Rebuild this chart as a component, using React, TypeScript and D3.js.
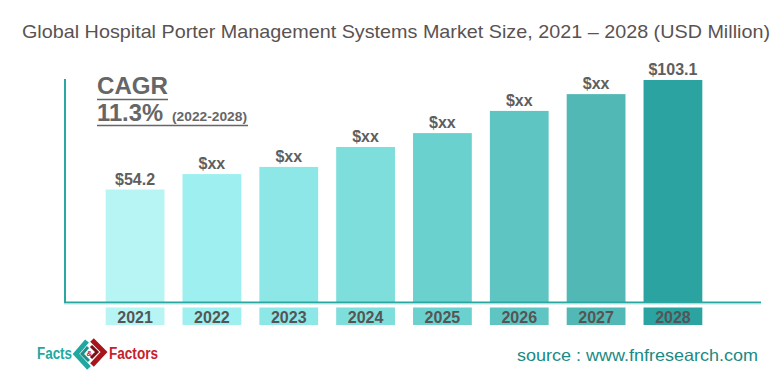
import React from "react";
import * as d3 from "d3";

const years = ["2021", "2022", "2023", "2024", "2025", "2026", "2027", "2028"];
const values = [54.2, 61.1, 64.3, 73.2, 79.4, 89.3, 96.8, 103.1];
const labels = ["$54.2", "$xx", "$xx", "$xx", "$xx", "$xx", "$xx", "$103.1"];
const colors = ["#b6f5f3", "#9deff0", "#8de7e7", "#7ddedc", "#6bd1ce", "#5ec5c2", "#52b8b5", "#2ba3a0"];

const W = 780, H = 381;

export default function App() {
  const x = d3.scaleBand<string>().domain(years).range([98, 710]).paddingInner(0.235).paddingOuter(0.1);
  const y = d3.scaleLinear().domain([4, 103.1]).range([302, 80]);
  const font = "'Liberation Sans', Arial, sans-serif";
  return (
    <svg width={W} height={H} style={{ position: "absolute", left: 0, top: 0 }} fontFamily={font}>
      <rect width={W} height={H} fill="#fff" />
      <text x={22} y={38} fontSize={18.5} fill="#5a5252" textLength={748} lengthAdjust="spacingAndGlyphs">
        Global Hospital Porter Management Systems Market Size, 2021 – 2028 (USD Million)
      </text>
      {years.map((yr, i) => (
        <g key={yr}>
          <rect x={x(yr)} y={y(values[i])} width={x.bandwidth()} height={302 - y(values[i])} fill={colors[i]} />
          <text x={x(yr)! + x.bandwidth() / 2} y={y(values[i]) - 5} textAnchor="middle" fontSize={16} fontWeight="bold" fill="#5e5e5e">
            {labels[i]}
          </text>
          <rect x={x(yr)} y={307.5} width={x.bandwidth()} height={17.5} fill={colors[i]} />
          <text x={x(yr)! + x.bandwidth() / 2} y={322.5} textAnchor="middle" fontSize={16} fontWeight="bold" fill="#555">
            {yr}
          </text>
        </g>
      ))}
      <line x1={65} y1={79} x2={65} y2={303} stroke="#2aa7a0" strokeWidth={2} />
      <line x1={64} y1={302.5} x2={761} y2={302.5} stroke="#2aa7a0" strokeWidth={2} />
      <line x1={64} y1={304} x2={761} y2={304} stroke="#bfe6e3" strokeWidth={1} />
      <text x={97} y={94} fontSize={23} fontWeight="bold" fill="#666" textLength={71} lengthAdjust="spacingAndGlyphs">CAGR</text>
      <line x1={97} y1={99.5} x2={168} y2={99.5} stroke="#666" strokeWidth={1.6} />
      <text x={97} y={121} fontSize={23} fill="#666" fontWeight="600" textLength={66} lengthAdjust="spacingAndGlyphs">11.3%</text>
      <text x={172} y={121} fontSize={12.5} fontWeight="bold" fill="#666" textLength={75} lengthAdjust="spacingAndGlyphs">(2022-2028)</text>
      <line x1={97} y1={125.5} x2={248} y2={125.5} stroke="#666" strokeWidth={1.6} />
      <g>
        <text x={37} y={359} fontSize={16} fontWeight="bold" fill="#1fa8a0" textLength={35} lengthAdjust="spacingAndGlyphs">Facts</text>
        <polyline points="87,341 76,354 89,368" fill="none" stroke="#1fa8a0" strokeWidth={5} strokeLinejoin="miter" />
        <polyline points="88,347 82,354 89,361" fill="none" stroke="#1b8f88" strokeWidth={3} />
        <polyline points="92,340 104,352 92,365" fill="none" stroke="#a8141c" strokeWidth={5} strokeLinejoin="miter" />
        <polyline points="91,346 97,352 91,358" fill="none" stroke="#7a0e12" strokeWidth={3} />
        <text x={89.5} y={356} fontSize={8} fontWeight="bold" fill="#c8202a" textAnchor="middle">&amp;</text>
        <text x={109} y={359} fontSize={16} fontWeight="bold" fill="#c8202a" textLength={49} lengthAdjust="spacingAndGlyphs">Factors</text>
      </g>
      <text x={517} y={361} fontSize={16.5} fill="#1a8a84" textLength={241} lengthAdjust="spacingAndGlyphs">source : www.fnfresearch.com</text>
    </svg>
  );
}
